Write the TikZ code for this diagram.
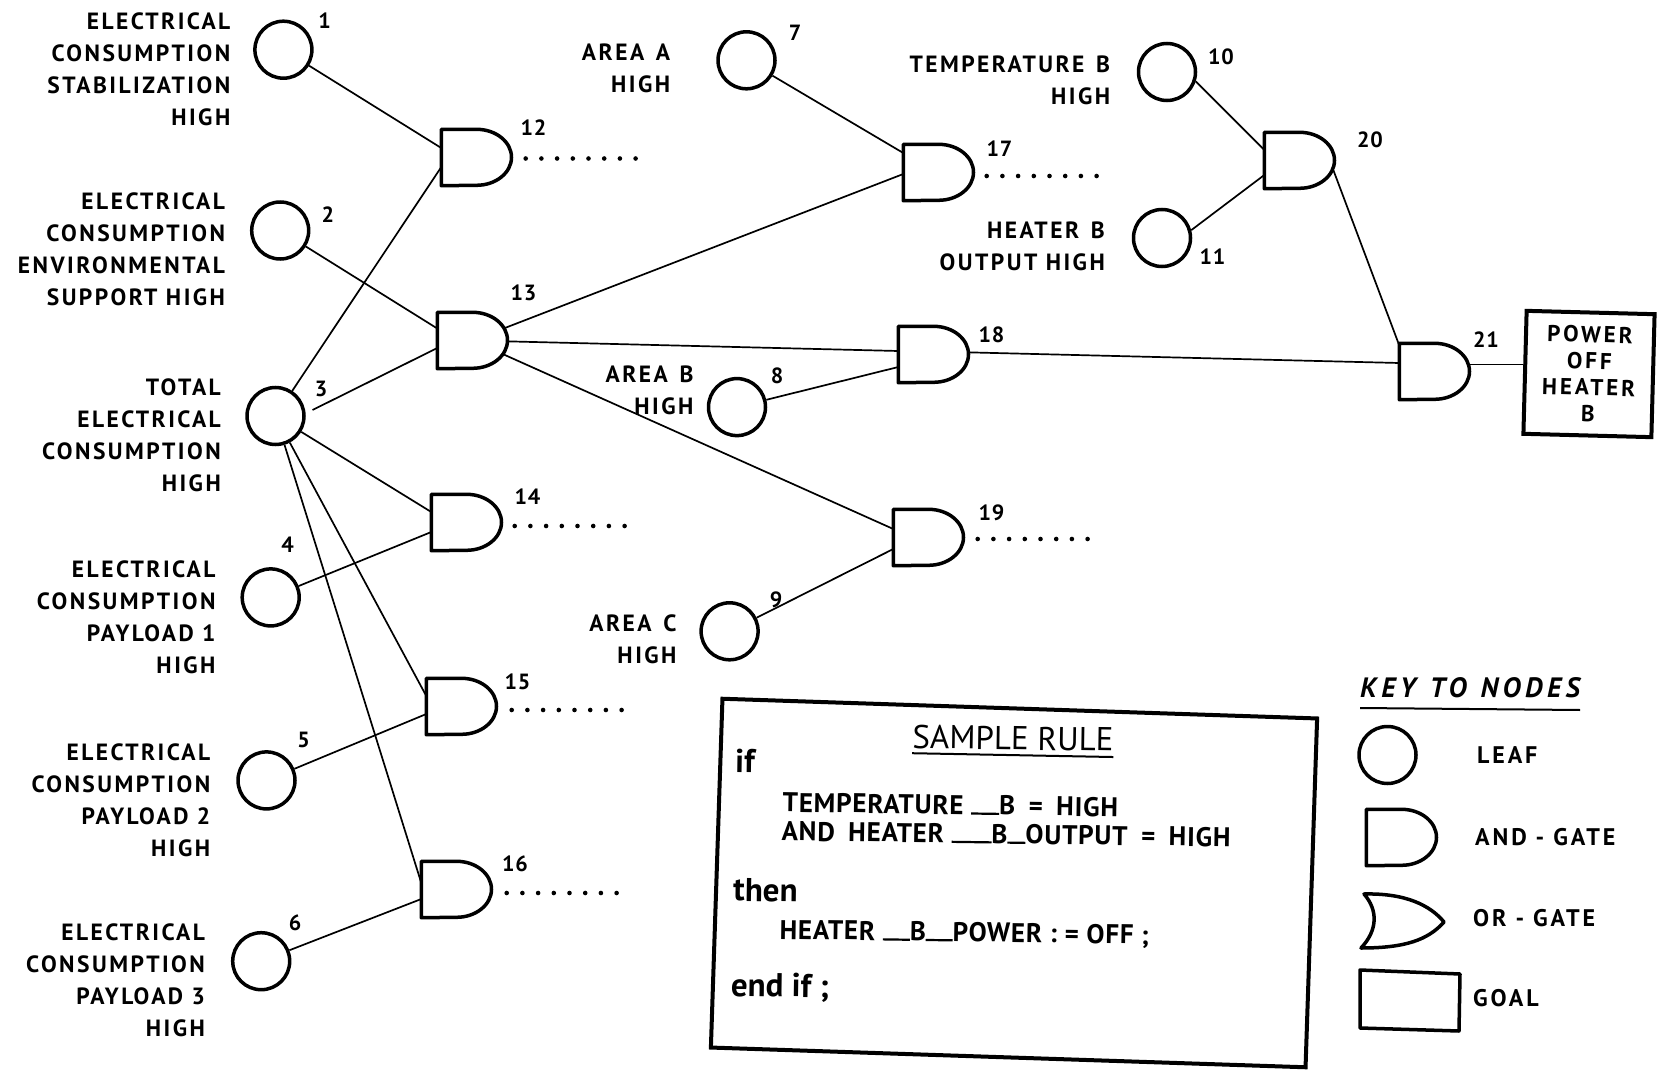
\documentclass[tikz,border=0pt]{standalone}
\usepackage{fontspec}
\setmainfont{PT Sans}
\usetikzlibrary{calc}

% a baseline bar standing for the underscores of the rule text
\newcommand\usbar[1]{\rule{#1}{2.2pt}}

\tikzset{
  leaf/.style={circle, draw, line width=3.5pt, minimum size=57pt, inner sep=0pt, fill=white},
  gatebox/.style={rectangle, minimum width=70pt, minimum height=56pt, inner sep=0pt},
  gateline/.style={line width=3.5pt, fill=white, line join=round},
  wire/.style={line width=1.7pt},
  trail/.style={line width=4.6pt, line cap=round, dash pattern=on 0pt off 15.7pt},
  lbl/.style={font=\bfseries\fontsize{23.5}{32}\selectfont\addfontfeatures{LetterSpace=10.5},
    align=right, anchor=east, inner sep=0pt},
  num/.style={font=\bfseries\fontsize{22}{22}\selectfont\addfontfeatures{LetterSpace=4}, inner sep=0pt},
  goalbox/.style={draw, line width=4pt, minimum width=128pt, minimum height=123pt, inner sep=0pt,
    align=center, font=\bfseries\fontsize{23}{26.5}\selectfont\addfontfeatures{LetterSpace=13}},
  ruletxt/.style={font=\bfseries\fontsize{27}{30}\selectfont\addfontfeatures{LetterSpace=3}, inner sep=0pt},
  rulekw/.style={font=\bfseries\fontsize{33}{35}\selectfont, inner sep=0pt},
  ruletitle/.style={font=\fontsize{33}{35}\selectfont, inner sep=0pt},
  keytxt/.style={font=\bfseries\fontsize{24}{26}\selectfont\addfontfeatures{LetterSpace=12},
    inner sep=0pt, anchor=base west},
}

\begin{document}
\begin{tikzpicture}[x=1pt,y=-1pt]
\useasboundingbox (0,0) rectangle (1658,1070);

% ---- leaf nodes
\node[leaf] (c1)  at (283.4,49.7) {};
\node[leaf] (c2)  at (280.2,230.5) {};
\node[leaf] (c3)  at (275.5,416) {};
\node[leaf] (c4)  at (270.7,597.4) {};
\node[leaf] (c5)  at (266.5,780.4) {};
\node[leaf] (c6)  at (261.2,961.2) {};
\node[leaf] (c7)  at (746.5,60.3) {};
\node[leaf] (c8)  at (737,407.1) {};
\node[leaf] (c9)  at (729.6,631.3) {};
\node[leaf] (c10) at (1167,72) {};
\node[leaf] (c11) at (1162,238) {};

% ---- gate frames (outlines drawn last)
\node[gatebox] (g12) at (476.5,157.5) {};
\node[gatebox] (g13) at (472.5,340.5) {};
\node[gatebox] (g14) at (466.5,522.5) {};
\node[gatebox] (g15) at (461.5,706.5) {};
\node[gatebox] (g16) at (456.5,889.5) {};
\node[gatebox] (g17) at (938.5,172.5) {};
\node[gatebox] (g18) at (933.5,354.5) {};
\node[gatebox] (g19) at (928.5,537.5) {};
\node[gatebox] (g20) at (1299.5,160.5) {};
\node[gatebox] (g21) at (1434.5,371.5) {};

% ---- goal
\node[goalbox, rotate=-1.5] (goal) at (1589,374) {POWER\\OFF\\HEATER\\B};

% ---- leaf labels
\node[lbl] (l1) at (230.5,69) {ELECTRICAL\\CONSUMPTION\\STABILIZATION\\HIGH};
\node[lbl] (l2) at (225.2,249) {ELECTRICAL\\CONSUMPTION\\ENVIRONMENTAL\\SUPPORT HIGH};
\node[lbl] (l3) at (221,435.7) {TOTAL\\ELECTRICAL\\CONSUMPTION\\HIGH};
\node[lbl] (l4) at (215.7,617) {ELECTRICAL\\CONSUMPTION\\PAYLOAD 1\\HIGH};
\node[lbl] (l5) at (210.4,800) {ELECTRICAL\\CONSUMPTION\\PAYLOAD 2\\HIGH};
\node[lbl] (l6) at (205.1,980.7) {ELECTRICAL\\CONSUMPTION\\PAYLOAD 3\\HIGH};
\node[lbl] (l7) at (670.4,68.2) {AREA\enspace A\\HIGH};
\node[lbl] (l8) at (693.7,390.7) {AREA\enspace B\\HIGH};
\node[lbl] (l9) at (676.7,639.7) {AREA\enspace C\\HIGH};
\node[lbl] (l10) at (1110.3,80.4) {TEMPERATURE\enspace B\\HIGH};
\node[lbl] (l11) at (1105,246.5) {HEATER\enspace B\\OUTPUT HIGH};

% ---- node numbers
\node[num] (n1)  at (324.6,21.1) {1};
\node[num] (n2)  at (327.8,214.7) {2};
\node[num] (n3)  at (321,388.5) {3};
\node[num] (n4)  at (287.5,545) {4};
\node[num] (n5)  at (303.5,740.2) {5};
\node[num] (n6)  at (295,923.1) {6};
\node[num] (n7)  at (795.2,32.8) {7};
\node[num] (n8)  at (777.2,375.4) {8};
\node[num] (n9)  at (776.1,599.5) {9};
\node[num] (n10) at (1221,56.5) {10};
\node[num] (n11) at (1212.5,257) {11};
\node[num] (n12) at (533.5,127.5) {12};
\node[num] (n13) at (523.5,292.5) {13};
\node[num] (n14) at (527.5,496.5) {14};
\node[num] (n15) at (517.5,681.5) {15};
\node[num] (n16) at (515,863.5) {16};
\node[num] (n17) at (999.5,148.5) {17};
\node[num] (n18) at (991.5,335) {18};
\node[num] (n19) at (991.5,512.5) {19};
\node[num] (n20) at (1370,140) {20};
\node[num] (n21) at (1486,340) {21};

% ---- connectors
\draw[wire] (c1) -- ([yshift=9.5pt]g12.west);
\draw[wire] (c3) -- ([yshift=-9.5pt]g12.west);
\draw[wire] (c2) -- ([yshift=12pt]g13.west);
\draw[wire] ([shift={(37pt,6pt)}]c3.center) -- ([yshift=-7.5pt]g13.west);
\draw[wire] (c3) -- ([yshift=10.5pt]g14.west);
\draw[wire] (c4) -- ([yshift=-9.5pt]g14.west);
\draw[wire] (c3) -- ([yshift=10.5pt]g15.west);
\draw[wire] (c5) -- ([yshift=-7.5pt]g15.west);
\draw[wire] (c3) -- ([yshift=6.5pt]g16.west);
\draw[wire] (c6) -- ([yshift=-9.5pt]g16.west);
\draw[wire] (c7) -- ([yshift=19.5pt]g17.west);
\draw[wire] (g13.center) -- ([yshift=-1.5pt]g17.west);
\draw[wire] (g13.center) -- ([yshift=3.5pt]g18.west);
\draw[wire] (c8) -- ([yshift=-12.5pt]g18.west);
\draw[wire] (g13.center) -- ([yshift=8.5pt]g19.west);
\draw[wire] (c9) -- ([yshift=-11.5pt]g19.west);
\draw[wire] (c10.-18) -- ([yshift=10.5pt]g20.west);
\draw[wire] (c11.15) -- ([yshift=-14.5pt]g20.west);
\draw[wire] ([shift={(34pt,-10pt)}]g20.center) -- ([yshift=26pt]g21.west);
\draw[wire] ([yshift=3pt]g18.center) -- ([yshift=8.5pt]g21.west);
\draw[wire] ([yshift=7pt]g21.east) -- ([yshift=7pt]g21.east -| goal.west);

% ---- unfinished outputs
\draw[trail] ([shift={(14pt,-1pt)}]g12.east) -- ++(110.5,0);
\draw[trail] ([shift={(13pt,-3.5pt)}]g14.east) -- ++(110.5,0);
\draw[trail] ([shift={(15pt,-3.5pt)}]g15.east) -- ++(110.5,0);
\draw[trail] ([shift={(15pt,-3.5pt)}]g16.east) -- ++(110.5,0);
\draw[trail] ([shift={(13pt,-3.5pt)}]g17.east) -- ++(110.5,0);
\draw[trail] ([shift={(14pt,-1.5pt)}]g19.east) -- ++(110.5,0);

% ---- key to nodes
\node[font=\bfseries\itshape\fontsize{28}{28}\selectfont\addfontfeatures{LetterSpace=16},
  inner sep=0pt, anchor=base west] (keyt) at (1360,697) {KEY\enspace TO\enspace NODES};
\draw[line width=2pt] ([yshift=-11pt]keyt.base west) -- ([yshift=-13pt]keyt.base east);
\node[leaf] (kleaf) at (1387.5,755) {};
\node[keytxt] (kl) at (1477,763.5) {LEAF};
\node[gatebox] (kand) at (1401.5,837.5) {};
\node[keytxt] (ka) at (1475,845.5) {AND - GATE};
\draw[line width=3.5pt, line join=round]
  (1364,894) .. controls (1405,893) and (1430,905) .. (1444,922)
  .. controls (1428,940) and (1405,948) .. (1361,948)
  .. controls (1378,930) and (1378,910) .. cycle;
\node[keytxt] (ko) at (1473,926) {OR - GATE};
\draw[line width=3.5pt, line join=round] (1360,970) -- (1460,974) -- (1459,1031) -- (1360,1028) -- cycle;
\node[keytxt] (kg) at (1473,1006) {GOAL};

% ---- gate outlines over the wire ends
\foreach \g in {g12,g13,g14,g15,g16,g17,g18,g19,g20,g21,kand}
  \filldraw[gateline] (\g.north west) -- (\g.north)
    arc[start angle=90, end angle=-90, x radius=35pt, y radius=28pt]
    -- (\g.south west) -- cycle;

% ---- sample rule: frame, slightly tilted
\node[draw, line width=4pt, minimum width=595pt, minimum height=349pt, inner sep=0pt, rotate=-1.9]
  (rule) at (1014,883) {};
% ---- sample rule: text
\begin{scope}[rotate around={-0.8:(1014,883)}, transform shape]
  \node[ruletitle, anchor=base] (srule) at (1011,749.7) {SAMPLE RULE};
  \draw[line width=2pt] ([yshift=-5pt]srule.base west) -- ([yshift=-6pt]srule.base east);
  \node[rulekw, anchor=base west] (rif) at (733.5,775.9) {if};
  \node[ruletxt, anchor=base west] (rc1) at (781.5,815.2)
    {TEMPERATURE \usbar{28pt}B\enspace =\enspace HIGH};
  \node[ruletxt, anchor=base west] (rc2) at (780.8,843.8)
    {AND\enspace HEATER \usbar{40pt}B\usbar{18pt}OUTPUT\enspace =\enspace HIGH};
  \node[rulekw, anchor=base west] (rthen) at (733.3,904.9) {then};
  \node[ruletxt, anchor=base west] (ract) at (780.1,942.3)
    {HEATER \usbar{27pt}B\usbar{27pt}POWER : = OFF ;};
  \node[rulekw, anchor=base west] (rend) at (732.2,1000) {end if ;};
\end{scope}
\end{tikzpicture}
\end{document}
